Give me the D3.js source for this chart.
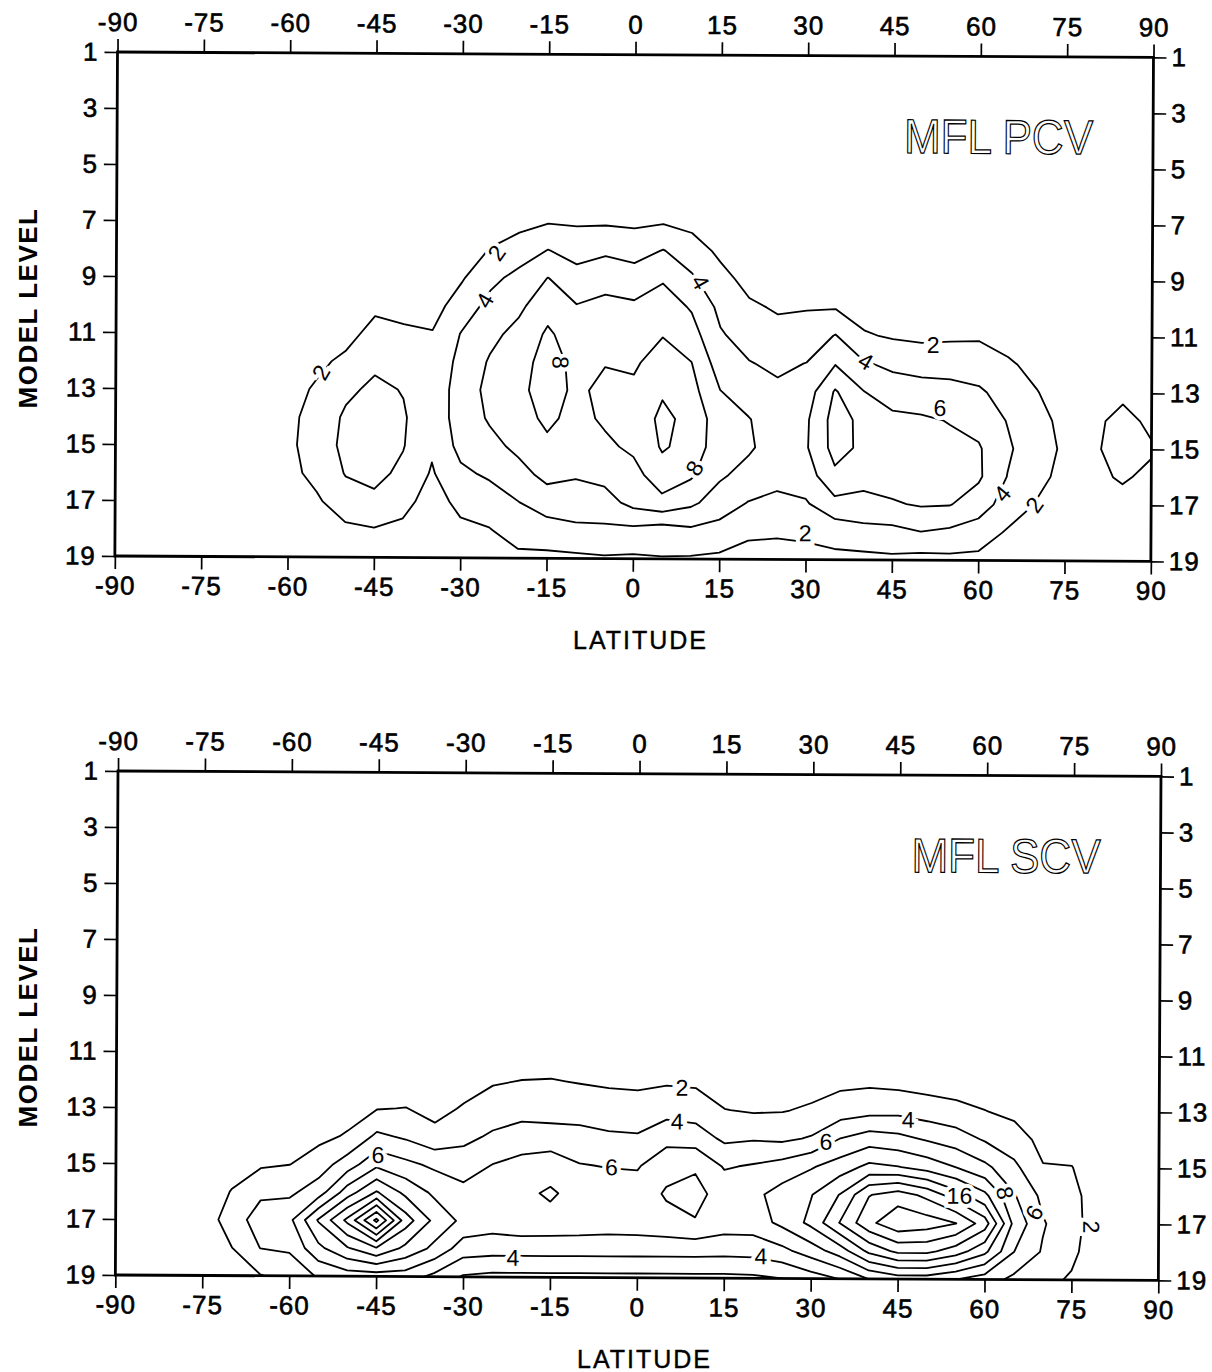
<!DOCTYPE html>
<html>
<head>
<meta charset="utf-8">
<script src="https://cdn.jsdelivr.net/npm/d3@7"></script>
<style>
  body { margin: 0; background: #fff; }
  svg text { font-family: "Liberation Sans", Arial, sans-serif; fill: #000; }
</style>
</head>
<body>
<svg id="chart" width="1212" height="1372"></svg>
<script>
// grid the fields are sampled on
const latitudes = [-90, -85, -80, -75, -70, -65, -60, -55, -50, -45, -40, -35, -30, -25, -20, -15, -10, -5,
                   0, 5, 10, 15, 20, 25, 30, 35, 40, 45, 50, 55, 60, 65, 70, 75, 80, 85, 90];
const levels = [1, 2, 3, 4, 5, 6, 7, 8, 9, 10, 11, 12, 13, 14, 15, 16, 17, 18, 19];
const latTicks = [-90, -75, -60, -45, -30, -15, 0, 15, 30, 45, 60, 75, 90];
const levelTicks = [1, 3, 5, 7, 9, 11, 13, 15, 17, 19];

const pcvThresholds = [2, 4, 6, 8, 10];
const scvThresholds = [2, 4, 6, 8, 10, 12, 14, 16, 18, 20];

// MFL PCV: one profile per latitude, values at model levels 1..19
const pcvProfiles = [
  [0,0,0,0,0, 0,0,0,0,0,0,0,0,0,0,0,0,0,0],
  [0,0,0,0,0, 0,0,0,0,0,0,0,0,0,0,0,0,0,0],
  [0,0,0,0,0, 0,0,0,0,0,0,0,0,0,0,0,0,0,0],
  [0,0,0,0,0, 0,0,0,0,0,0,0,0,0,0,0,0,0,0],
  [0,0,0,0,0, 0,0,0,0,0,0,0,0.2,0.3,0.3,0.3,0.2,0,0],
  [0,0,0,0,0, 0,0,0,0,0,0,0.3,0.6,0.8,0.8,0.6,0.4,0.2,0],
  [0,0,0,0,0, 0,0,0,0,0,0.4,0.8,1.2,1.5,1.6,1.4,1.0,0.6,0.3],
  [0,0,0,0,0, 0,0,0,0,0.3,0.8,1.5,2.3,2.8,2.9,2.6,1.7,1.0,0.5],
  [0,0,0,0,0, 0,0,0,0,0.5,1.2,2.5,3.6,4.3,4.5,4.1,3.2,1.6,0.8],
  [0,0,0,0,0, 0,0,0,0.4,1.5,2.8,3.6,4.4,4.8,4.8,4.5,3.6,1.9,1.0],
  [0,0,0,0,0, 0,0,0,0.4,1.4,2.3,3.0,3.9,4.2,4.1,3.6,2.6,1.6,0.8],
  [0,0,0,0,0, 0,0,0,0.4,1.3,2.1,2.5,2.6,2.6,2.3,1.8,1.2,0.8,0.4],
  [0,0,0,0,0, 0,0.3,1.0,1.8,2.9,4.1,4.6,5.0,5.0,4.6,3.6,2.5,1.6,1.0],
  [0,0,0,0,0, 0.3,1.0,2.1,3.5,4.6,5.5,6.2,6.5,6.2,5.5,4.3,3.0,1.9,1.2],
  [0,0,0,0,0, 0.5,1.4,3.0,4.6,5.6,6.6,7.2,7.5,7.2,6.4,5.4,3.95,2.8,1.6],
  [0,0,0,0,0, 0.6,1.9,4.05,6.05,7.3,8.3,8.8,8.9,8.4,7.6,6.5,5.1,3.0,1.6],
  [0,0,0,0,0, 0.6,1.8,3.2,4.8,6.1,7.0,7.5,7.6,7.4,6.9,6.2,5.0,3.6,1.6],
  [0,0,0,0,0, 0.6,1.8,3.7,5.2,6.6,7.4,7.9,8.5,8.3,7.6,6.6,5.2,3.6,1.8],
  [0,0,0,0,0, 0.5,1.7,3.2,5.0,6.3,7.0,7.7,8.4,8.9,8.4,7.3,6.6,3.5,1.7],
  [0,0,0,0,0, 0.8,1.9,4.1,5.8,7.0,7.9,9.0,9.8,10.4,10.2,9.2,7.4,3.0,1.9],
  [0,0,0,0,0, 0.5,1.5,2.9,4.3,5.8,6.8,8.05,8.7,9.5,9.4,8.3,6.4,3.6,1.8],
  [0,0,0,0,0, 0,0.8,1.6,2.6,3.5,4.2,5.0,6.05,6.8,6.7,6.3,5.0,3.3,1.6],
  [0,0,0,0,0, 0,0.3,0.8,1.4,2.3,3.2,4.1,5.0,6.1,6.3,5.3,3.9,2.3,1.4],
  [0,0,0,0,0, 0,0,0.3,0.9,1.8,2.6,3.6,4.4,4.9,5.0,4.5,3.6,2.2,1.4],
  [0,0,0,0,0, 0,0,0.3,0.8,1.9,2.8,4.05,5.0,5.7,5.8,5.0,3.8,2.3,1.5],
  [0,0,0,0,0, 0,0,0.3,0.9,1.9,4.1,5.9,8.2,8.8,8.7,7.6,5.4,2.8,1.5],
  [0,0,0,0,0, 0,0,0,0.5,1.2,2.2,4.2,6.05,7.5,7.6,6.8,5.3,3.4,1.4],
  [0,0,0,0,0, 0,0,0,0.3,0.8,1.8,3.6,5.0,6.5,7.0,6.9,5.8,3.4,1.6],
  [0,0,0,0,0, 0,0,0,0.2,0.6,1.6,3.3,4.8,6.3,7.0,7.0,6.2,3.95,1.3],
  [0,0,0,0,0, 0,0,0,0.2,0.6,1.7,3.3,4.6,5.9,6.5,6.6,6.1,3.6,1.5],
  [0,0,0,0,0, 0,0,0,0.2,0.6,1.8,3.0,4.3,5.3,6.2,6.3,5.0,3.0,1.5],
  [0,0,0,0,0, 0,0,0,0,0.4,1.2,2.3,3.2,3.9,4.3,3.95,3.1,1.8,1.0],
  [0,0,0,0,0, 0,0,0,0,0.2,0.6,1.4,2.1,2.6,2.8,2.5,1.9,1.2,0.6],
  [0,0,0,0,0, 0,0,0,0,0,0.3,0.6,1.0,1.5,1.7,1.5,1.0,0.6,0.3],
  [0,0,0,0,0, 0,0,0,0,0,0,0.3,0.9,1.6,1.7,1.6,1.0,0.5,0.2],
  [0,0,0,0,0, 0,0,0,0,0,0,0.5,1.6,2.6,2.9,2.2,1.4,0.8,0.3],
  [0,0,0,0,0, 0,0,0,0,0,0,0.2,0.9,1.6,2.2,1.6,0.9,0.4,0.1]
];

// MFL SCV: same layout
const scvProfiles = [
  [0,0,0,0,0,0,0,0,0,0, 0,0,0,0,0,0,0,0,0],
  [0,0,0,0,0,0,0,0,0,0, 0,0,0,0,0,0,0,0,0],
  [0,0,0,0,0,0,0,0,0,0, 0,0,0,0,0,0,0,0,0],
  [0,0,0,0,0,0,0,0,0,0, 0,0,0,0,0.3,0.6,0.8,0.6,0.3],
  [0,0,0,0,0,0,0,0,0,0, 0,0,0,0.4,1.0,2.1,3.0,1.95,1.0],
  [0,0,0,0,0,0,0,0,0,0, 0,0,0.5,1.0,1.7,3.6,4.9,4.05,1.9],
  [0,0,0,0,0,0,0,0,0,0, 0,0,0.6,1.2,1.95,3.6,5.5,4.3,2.6],
  [0,0,0,0,0,0,0,0,0,0, 0,0,0.8,1.5,3.0,5.0,10.2,7.5,4.2],
  [0,0,0,0,0,0,0,0,0,0, 0,0,1.2,2.2,5.0,9.0,14.5,9.8,5.0],
  [0,0,0,0,0,0,0,0,0,0, 0.2,0.8,1.9,4.4,7.5,12.2,20.5,11.8,5.0],
  [0,0,0,0,0,0,0,0,0,0, 0.2,0.9,2.05,3.7,6.5,9.5,13.0,9.5,5.0],
  [0,0,0,0,0,0,0,0,0,0, 0.1,0.5,1.4,2.6,5.6,7.6,9.5,7.5,3.5],
  [0,0,0,0,0,0,0,0,0,0, 0.3,1.2,2.2,3.5,5.0,6.6,7.5,5.0,1.8],
  [0,0,0,0,0,0,0,0,0,0, 0.5,1.8,3.0,4.3,6.05,6.8,7.0,4.8,1.5],
  [0,0,0,0,0,0,0,0,0,0, 0.8,2.05,3.2,5.0,6.6,7.5,7.4,4.8,1.5],
  [0,0,0,0,0,0,0,0,0,0, 1.0,2.1,3.0,5.0,7.0,8.3,7.3,4.8,1.5],
  [0,0,0,0,0,0,0,0,0,0, 0.9,1.9,3.1,4.7,6.1,7.2,7.2,4.8,1.5],
  [0,0,0,0,0,0,0,0,0,0, 0.7,1.7,3.0,4.3,5.9,7.0,7.0,4.8,1.5],
  [0,0,0,0,0,0,0,0,0,0, 0.6,1.6,2.9,4.2,5.8,7.0,7.1,4.8,1.5],
  [0,0,0,0,0,0,0,0,0,0, 0.8,1.8,3.3,5.3,7.4,8.2,7.4,4.8,1.5],
  [0,0,0,0,0,0,0,0,0,0, 0.7,1.7,3.1,5.0,7.8,8.5,7.9,4.8,1.5],
  [0,0,0,0,0,0,0,0,0,0, 0.3,1.0,2.05,3.6,5.8,7.3,7.0,4.7,1.5],
  [0,0,0,0,0,0,0,0,0,0, 0.2,0.9,1.8,3.8,6.2,7.5,7.0,4.8,1.6],
  [0,0,0,0,0,0,0,0,0,0, 0.2,1.0,1.9,3.6,6.8,8.8,8.5,5.5,2.0],
  [0,0,0,0,0,0,0,0,0,0, 0.3,1.2,2.3,4.2,7.8,9.9,10.5,7.0,3.0],
  [0,0,0,0,0,0,0,0,0,0, 0.5,1.6,3.0,6.05,9.0,12.1,14.1,9.0,4.05],
  [0,0,0,0,0,0,0,0,0,0, 0.6,1.7,3.4,7.0,10.5,15.9,17.5,12.5,6.05],
  [0,0,0,0,0,0,0,0,0,0, 0.5,1.5,3.5,6.6,10.1,17.0,19.5,14.5,7.0],
  [0,0,0,0,0,0,0,0,0,0, 0.4,1.3,3.0,5.8,9.2,15.5,19.0,14.5,7.0],
  [0,0,0,0,0,0,0,0,0,0, 0.3,1.1,2.6,5.0,8.0,13.0,18.05,13.0,6.05],
  [0,0,0,0,0,0,0,0,0,0, 0.3,1.0,2.05,3.8,6.5,10.5,15.0,10.5,5.0],
  [0,0,0,0,0,0,0,0,0,0, 0.2,0.8,1.6,2.8,4.5,6.2,7.5,6.05,3.5],
  [0,0,0,0,0,0,0,0,0,0, 0,0.3,0.8,1.5,2.1,3.5,4.2,3.8,2.5],
  [0,0,0,0,0,0,0,0,0,0, 0,0,0.5,1.4,2.05,2.4,2.6,2.4,1.8],
  [0,0,0,0,0,0,0,0,0,0, 0,0,0,0.3,0.8,1.2,1.0,0.8,0.5],
  [0,0,0,0,0,0,0,0,0,0, 0,0,0,0,0,0,0,0,0],
  [0,0,0,0,0,0,0,0,0,0, 0,0,0,0,0,0,0,0,0]
];

// inline contour labels
const pcvLabels = [
  {text: "2", lat: -24.0, level: 8.1, angle: -55},
  {text: "4", lat: -26.0, level: 9.8, angle: -60},
  {text: "2", lat: -54.4, level: 12.4, angle: -60},
  {text: "8", lat: -12.7, level: 12.0, angle: 90},
  {text: "4", lat: 11.5, level: 9.1, angle: 60},
  {text: "8", lat: 10.6, level: 15.75, angle: -60},
  {text: "2", lat: 52.0, level: 11.3, angle: 0},
  {text: "4", lat: 40.3, level: 11.9, angle: 30},
  {text: "6", lat: 53.2, level: 13.55, angle: 0},
  {text: "4", lat: 64.1, level: 16.6, angle: -50},
  {text: "2", lat: 69.7, level: 17.0, angle: -55},
  {text: "2", lat: 29.9, level: 18.05, angle: 0}
];
const scvLabels = [
  {text: "2", lat: 7.6, level: 12.2, angle: 0},
  {text: "4", lat: 6.8, level: 13.4, angle: 0},
  {text: "6", lat: -44.8, level: 14.66, angle: 0},
  {text: "6", lat: -4.5, level: 15.05, angle: 0},
  {text: "4", lat: -21.4, level: 18.3, angle: 0},
  {text: "4", lat: 46.7, level: 13.3, angle: 0},
  {text: "6", lat: 32.5, level: 14.1, angle: 0},
  {text: "16", lat: 55.6, level: 16.0, angle: 0},
  {text: "8", lat: 63.5, level: 15.9, angle: 80},
  {text: "6", lat: 68.5, level: 16.6, angle: -60},
  {text: "2", lat: 78.4, level: 17.1, angle: 90},
  {text: "4", lat: 21.4, level: 18.2, angle: 0}
];

const svg = d3.select("#chart");
svg.append("rect").attr("width", 1212).attr("height", 1372).attr("fill", "#fff");

const tilt = 0.3; // the scanned page is slightly rotated
const fmt = d => d < 0 ? "-" + Math.abs(d) : String(d);

function drawPanel(cfg) {
    const g = svg.append("g")
        .attr("transform", `translate(${cfg.left},${cfg.top}) rotate(${tilt})`);

    const x = d3.scaleLinear().domain([-90, 90]).range([0, cfg.width]);
    const y = d3.scaleLinear().domain([1, 19]).range([0, cfg.height]);

    // row-major grid for d3.contours
    const nx = latitudes.length, ny = levels.length;
    const grid = new Array(nx * ny);
    levels.forEach((lev, j) => {
        latitudes.forEach((lat, i) => { grid[j * nx + i] = cfg.profiles[i][j]; });
    });
    const dLat = latitudes[1] - latitudes[0];
    const dLev = levels[1] - levels[0];
    const toScreen = d3.geoTransform({
        point: function(px, py) {
            this.stream.point(x(latitudes[0] + (px - 0.5) * dLat), y(levels[0] + (py - 0.5) * dLev));
        }
    });
    const path = d3.geoPath(toScreen);
    const contours = d3.contours().size([nx, ny]).thresholds(cfg.thresholds)(grid);

    g.append("clipPath").attr("id", cfg.id + "-clip")
        .append("rect").attr("width", cfg.width).attr("height", cfg.height);

    g.append("g")
        .attr("clip-path", `url(#${cfg.id}-clip)`)
        .selectAll("path")
        .data(contours)
        .join("path")
        .attr("d", path)
        .attr("fill", "none")
        .attr("stroke", "#000")
        .attr("stroke-width", 1.8)
        .attr("stroke-linejoin", "round");

    // labels break the lines with a white halo
    g.append("g")
        .selectAll("text")
        .data(cfg.labels)
        .join("text")
        .attr("transform", d => `translate(${x(d.lat)},${y(d.level)}) rotate(${d.angle})`)
        .attr("text-anchor", "middle")
        .attr("dy", "0.36em")
        .attr("font-size", 23)
        .attr("stroke", "#fff")
        .attr("stroke-width", 8)
        .attr("paint-order", "stroke")
        .text(d => d.text);

    // axes, ticks outside on all four sides
    const styleAxis = sel => {
        sel.select(".domain").remove();
        sel.selectAll(".tick line").attr("stroke", "#000").attr("stroke-width", 1.7);
        sel.selectAll(".tick text")
            .attr("font-size", 26)
            .attr("letter-spacing", 1)
            .attr("fill", "#000")
            .attr("stroke", "#000")
            .attr("stroke-width", 0.6);
    };
    g.append("g")
        .call(d3.axisTop(x).tickValues(latTicks).tickSize(13).tickPadding(8).tickFormat(fmt))
        .call(styleAxis);
    g.append("g")
        .attr("transform", `translate(0,${cfg.height})`)
        .call(d3.axisBottom(x).tickValues(latTicks).tickSize(13).tickPadding(7).tickFormat(fmt))
        .call(styleAxis);
    g.append("g")
        .call(d3.axisLeft(y).tickValues(levelTicks).tickSize(13).tickPadding(6))
        .call(styleAxis);
    g.append("g")
        .attr("transform", `translate(${cfg.width},0)`)
        .call(d3.axisRight(y).tickValues(levelTicks).tickSize(13).tickPadding(5))
        .call(styleAxis);

    g.append("rect")
        .attr("width", cfg.width)
        .attr("height", cfg.height)
        .attr("fill", "none")
        .attr("stroke", "#000")
        .attr("stroke-width", 2.8);

    // outlined title
    g.append("text")
        .attr("transform", `translate(${cfg.width - 60},97) scale(1,1.1)`)
        .attr("text-anchor", "end")
        .attr("font-size", 44)
        .attr("stroke", "#000")
        .attr("stroke-width", 1.1)
        .style("fill", "#fff")
        .text(cfg.title);

    svg.append("text")
        .attr("x", cfg.left + cfg.width / 2 + 5)
        .attr("y", cfg.top + cfg.height + 93)
        .attr("text-anchor", "middle")
        .attr("font-size", 25)
        .attr("letter-spacing", 2)
        .attr("stroke", "#000")
        .attr("stroke-width", 0.4)
        .text("LATITUDE");

    svg.append("text")
        .attr("transform", `translate(37,${cfg.top + cfg.height / 2 + 4}) rotate(-90)`)
        .attr("text-anchor", "middle")
        .attr("font-size", 26)
        .attr("font-weight", "bold")
        .attr("letter-spacing", 1.5)
        .text("MODEL LEVEL");
}

drawPanel({id: "pcv", left: 117.5, top: 52, width: 1036, height: 504,
           profiles: pcvProfiles, thresholds: pcvThresholds, labels: pcvLabels, title: "MFL PCV"});
drawPanel({id: "scv", left: 118, top: 771, width: 1043, height: 504,
           profiles: scvProfiles, thresholds: scvThresholds, labels: scvLabels, title: "MFL SCV"});
</script>
</body>
</html>
